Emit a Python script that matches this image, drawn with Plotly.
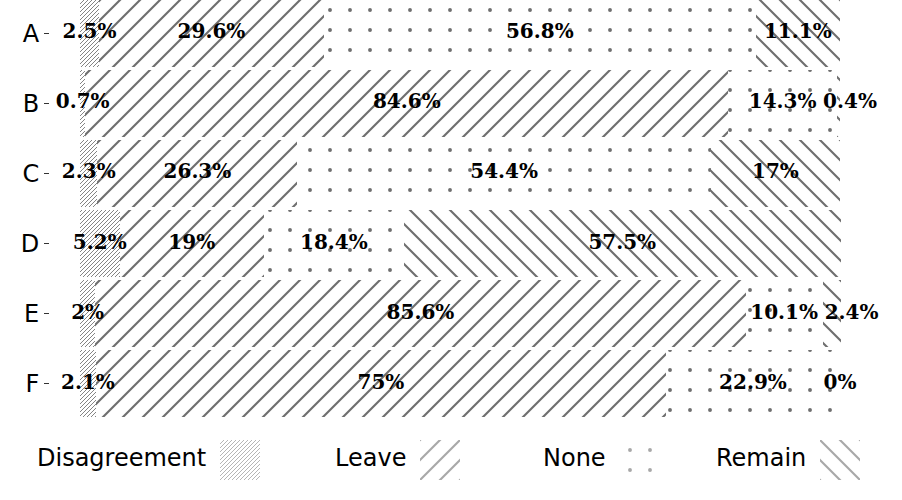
import math
import plotly.graph_objects as go

# categories (top to bottom) and the share of each answer, in percent
categories = ["A", "B", "C", "D", "E", "F"]
disagreement = [2.5, 0.7, 2.3, 5.2, 2, 2.1]
leave = [29.6, 84.6, 26.3, 19, 85.6, 75]
none = [56.8, 14.3, 54.4, 18.4, 10.1, 22.9]
remain = [11.1, 0.4, 17, 57.5, 2.4, 0]

series = [("Disagreement", disagreement), ("Leave", leave),
          ("None", none), ("Remain", remain)]

W, H = 902, 500
PLOT_L, PLOT_R = 80, 840          # pixel extent of the 0..100% bars
PX_PER_PCT = (PLOT_R - PLOT_L) / 100.0
X_MAX = 108                       # room on the right for overflowing labels
LABEL_SIZE = 20

# diagonal hatch tiles are size*sqrt(2) wide, so pick sizes giving whole-pixel tiles
patterns = {
    "Disagreement": dict(shape="/", size=4 / math.sqrt(2), solidity=0.3),
    "Leave": dict(shape="/", size=20 / math.sqrt(2), solidity=0.15),
    "None": dict(shape=".", size=20, solidity=0.03),
    "Remain": dict(shape="\\", size=20 / math.sqrt(2), solidity=0.15),
}

fig = go.Figure()

for name, vals in series:
    fig.add_trace(go.Bar(
        y=categories, x=vals, name=name, orientation="h", width=0.95,
        marker=dict(color="white", line=dict(width=0),
                    pattern=dict(fgcolor="#6e6e6e", bgcolor="white", fgopacity=1,
                                 **patterns[name])),
        showlegend=False, hoverinfo="x+name"))


# rough width of a bold serif label in pixels, used to keep labels apart
def label_px(s):
    em = 0
    for ch in s:
        em += {"%": 1.0, ".": 0.38}.get(ch, 0.696)
    return em * LABEL_SIZE


lx, ly, lt = [], [], []
for i, cat in enumerate(categories):
    start = 0
    prev_right = None
    for name, vals in series:
        v = vals[i]
        txt = "%g%%" % v
        centre = PLOT_L + (start + v / 2) * PX_PER_PCT
        w = label_px(txt)
        if prev_right is not None and centre - w / 2 < prev_right + 5:
            centre = prev_right + 5 + w / 2
        prev_right = centre + w / 2
        lx.append((centre - PLOT_L) / PX_PER_PCT)
        ly.append(cat)
        lt.append(txt)
        start += v

fig.add_trace(go.Scatter(
    x=lx, y=ly, text=lt, mode="text", cliponaxis=False, showlegend=False,
    textfont=dict(family="DejaVu Serif", size=LABEL_SIZE, color="black", weight="bold"),
    hoverinfo="skip"))

# legend drawn by hand: label on the left, pattern swatch on the right
SW_X0, SW_STEP, SW_W = 220, 200, 40
for k, (name, vals) in enumerate(series):
    x0 = SW_X0 + k * SW_STEP
    fig.add_trace(go.Bar(
        x=[x0 + SW_W / 2], y=[1], width=[SW_W], xaxis="x2", yaxis="y2",
        marker=dict(color="white", line=dict(width=0),
                    pattern=dict(fgcolor="#a8a8a8", bgcolor="white", fgopacity=1,
                                 **patterns[name])),
        showlegend=False, hoverinfo="skip"))
    fig.add_annotation(x=(x0 - 12) / W, y=0.084, xref="paper", yref="paper",
                       text=name, showarrow=False, xanchor="right", yanchor="middle",
                       font=dict(family="DejaVu Sans", size=24, color="black"))

fig.update_layout(
    width=W, height=H, barmode="stack",
    margin=dict(l=0, r=0, t=0, b=0),
    paper_bgcolor="white", plot_bgcolor="white",
    xaxis=dict(range=[0, X_MAX], domain=[PLOT_L / W, (PLOT_L + X_MAX * PX_PER_PCT) / W],
               visible=False),
    yaxis=dict(range=[5.475, -0.475], domain=[83 / H, 1], anchor="free",
               position=49 / W, showgrid=False, zeroline=False, showline=False,
               ticks="outside", ticklen=5, tickwidth=1, tickcolor="#333333",
               tickfont=dict(family="DejaVu Sans", size=24, color="black")),
    xaxis2=dict(range=[0, W], domain=[0, 1], visible=False, anchor="y2"),
    yaxis2=dict(range=[0, 1], domain=[20 / H, 60 / H], visible=False, anchor="x2"),
)

# drop the browser's default 8px page margin so the chart sits at the window origin
fig.write_html("out.html", config={"displayModeBar": False},
               post_script="document.body.style.margin='0';")
